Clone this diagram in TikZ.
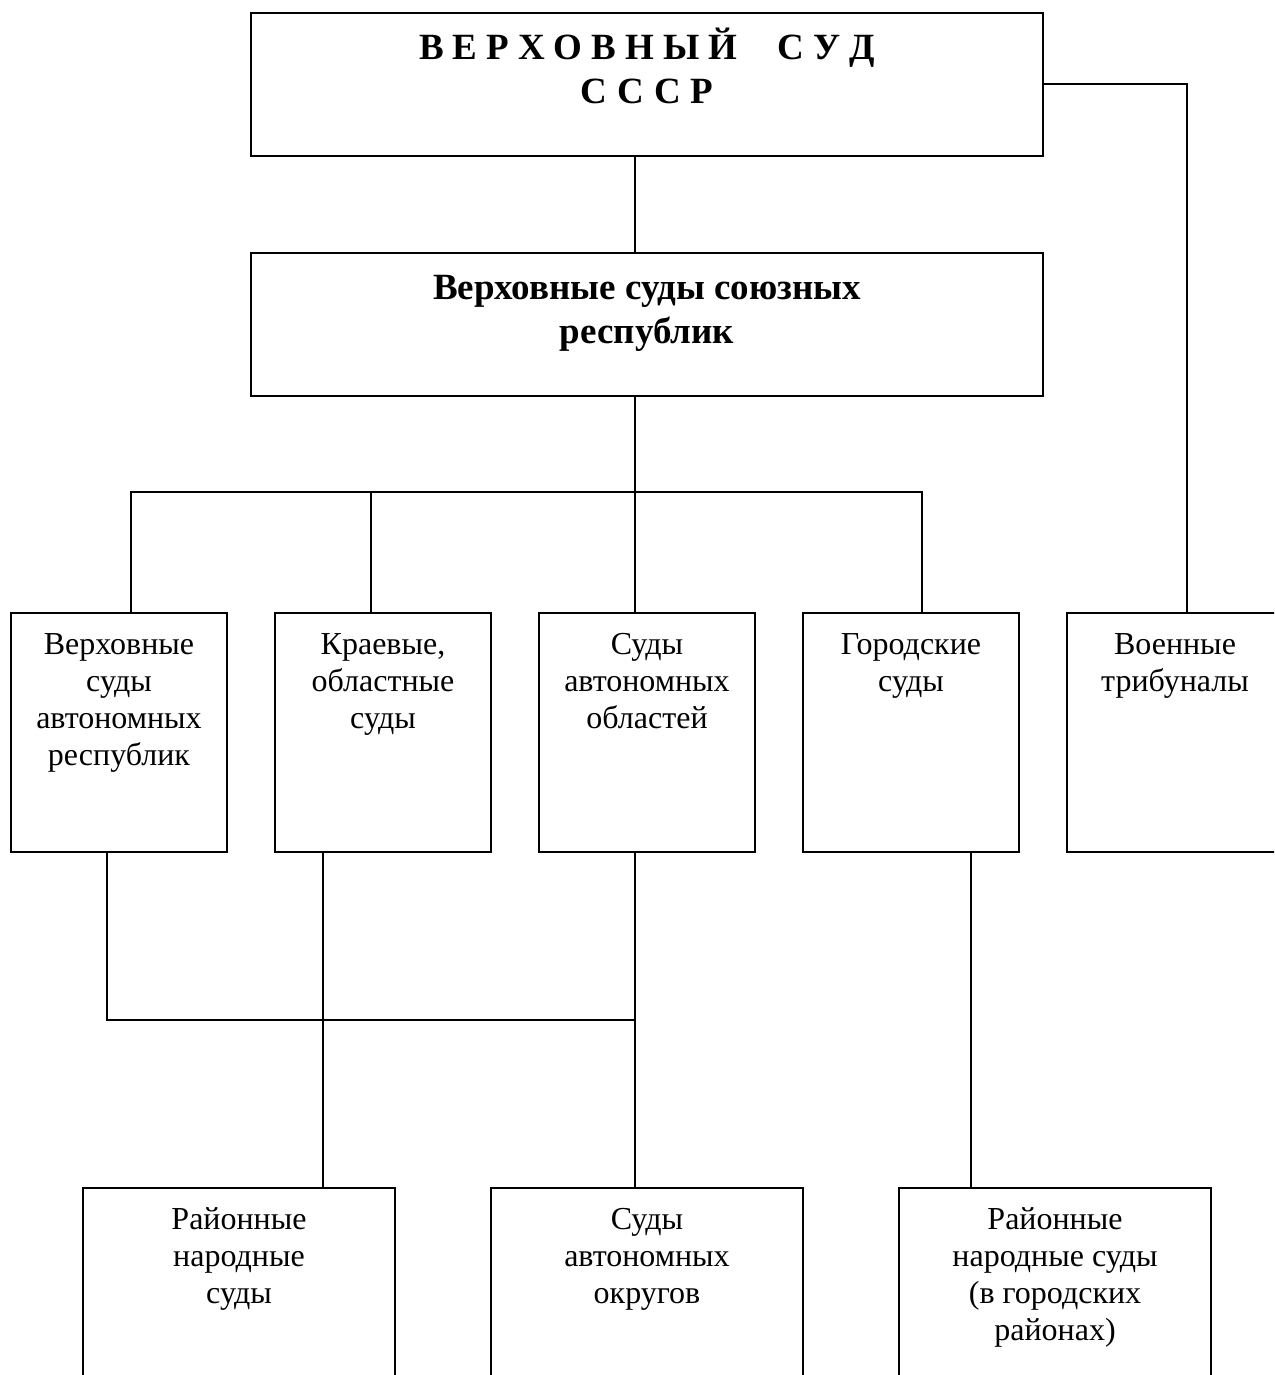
\documentclass[tikz,border=0pt]{standalone}
\usepackage{fontspec}
\setmainfont{Liberation Serif}
\begin{document}
\begin{tikzpicture}[x=1pt,y=-1pt,
  box/.style={draw,line width=2pt,inner sep=0pt,minimum width=#1},
  bigbox/.style={box=792pt,minimum height=143pt},
  rowbox/.style={box=216pt,minimum height=239pt},
  lowbox/.style={box=312pt,minimum height=232pt},
  txt/.style={inner sep=0pt,align=center,anchor=north,font=\fontsize{32}{37}\selectfont},
  boldtxt/.style={inner sep=0pt,align=center,anchor=north,font=\bfseries\fontsize{37}{44}\selectfont},
  conn/.style={line width=2pt}]
\useasboundingbox (0,0) rectangle (1274,1375);
\clip (0,0) rectangle (1274,1375);
% boxes
\node[bigbox] (top) at (647,84.5) {};
\node[bigbox] (rep) at (647,324.5) {};
\node[rowbox] (A) at (119,732.5) {};
\node[rowbox] (B) at (383,732.5) {};
\node[rowbox] (C) at (647,732.5) {};
\node[rowbox] (D) at (911,732.5) {};
\node[rowbox] (E) at (1175,732.5) {};
\node[lowbox] (F) at (239,1304) {};
\node[lowbox] (G) at (647,1304) {};
\node[lowbox] (H) at (1055,1304) {};
% texts
\node[boldtxt] (ttop) at ([yshift=-13pt]top.north) {\rule{0pt}{34pt}{\spaceskip=9pt В Е Р Х О В Н Ы Й\hspace{40pt}С У Д}\\{\spaceskip=10pt С С С Р}};
\node[boldtxt] (trep) at ([yshift=-13pt]rep.north) {\rule{0pt}{34pt}Верховные суды союзных\\республик};
\node[txt] (tA) at ([yshift=-16pt]A.north) {\strut Верховные\\суды\\автономных\\республик};
\node[txt] (tB) at ([yshift=-16pt]B.north) {\strut Краевые,\\областные\\суды};
\node[txt] (tC) at ([yshift=-16pt]C.north) {\strut Суды\\автономных\\областей};
\node[txt] (tD) at ([yshift=-16pt]D.north) {\strut Городские\\суды};
\node[txt] (tE) at ([yshift=-16pt]E.north) {\strut Военные\\трибуналы};
\node[txt] (tF) at ([yshift=-16pt]F.north) {\strut Районные\\народные\\суды};
\node[txt] (tG) at ([yshift=-16pt]G.north) {\strut Суды\\автономных\\округов};
\node[txt] (tH) at ([yshift=-16pt]H.north) {\strut Районные\\народные суды\\(в городских\\районах)};
% connector coordinates
\coordinate (xm) at (635,0);
\coordinate (xa) at (131,0);
\coordinate (xb) at (371,0);
\coordinate (xd) at (922,0);
\coordinate (xe) at (1187,0);
\coordinate (xa2) at (107,0);
\coordinate (xb2) at (323,0);
\coordinate (xd2) at (971,0);
\coordinate (bus) at (0,492);
\coordinate (lowbus) at (0,1020);
% connectors
\draw[conn] (top.south -| xm) -- (rep.north -| xm);
\draw[conn] (rep.south -| xm) -- (C.north -| xm);
\draw[conn] (A.north -| xa) -- (xa |- bus) -- (xd |- bus) -- (D.north -| xd);
\draw[conn] (B.north -| xb) -- (xb |- bus);
\draw[conn] (top.east) -- (top.east -| xe) -- (E.north -| xe);
\draw[conn] (A.south -| xa2) -- (xa2 |- lowbus) -- (xm |- lowbus);
\draw[conn] (B.south -| xb2) -- (F.north -| xb2);
\draw[conn] (C.south -| xm) -- (G.north -| xm);
\draw[conn] (D.south -| xd2) -- (H.north -| xd2);
\end{tikzpicture}
\end{document}
